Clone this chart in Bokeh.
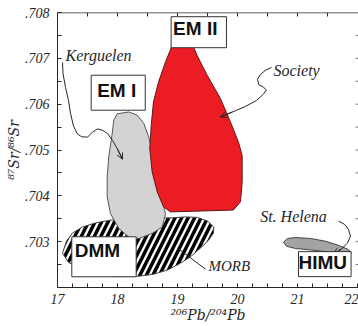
import numpy as np
from bokeh.plotting import figure
from bokeh.models import Label, FixedTicker, Arrow, OpenHead, Range1d
from bokeh.embed import file_html
from bokeh.resources import INLINE

# ---- axes / ticks ----
x_ticks = [17, 18, 19, 20, 21, 22]
x_tick_labels = ["17", "18", "19", "20", "21", "22"]
y_ticks = [0.703, 0.704, 0.705, 0.706, 0.707, 0.708]
y_tick_labels = [".703", ".704", ".705", ".706", ".707", ".708"]
x_minor = [17.25, 17.5, 17.75, 18.25, 18.5, 18.75, 19.25, 19.5, 19.75, 20.25, 20.5, 20.75, 21.25, 21.5, 21.75]
y_minor = [0.7025, 0.7035, 0.7045, 0.7055, 0.7065, 0.7075]
top_ticks = [17.5, 18, 18.5, 19, 19.5, 20, 20.5, 21, 21.5]
right_ticks = [0.7025, 0.703, 0.7035, 0.704, 0.7045, 0.705, 0.7055, 0.706, 0.7065, 0.707, 0.7075]

# ---- fields (206Pb/204Pb , 87Sr/86Sr) ----
em2_x = [18.917, 18.80, 18.683, 18.60, 18.562, 18.538, 18.578, 18.662, 18.767, 18.883,
         19.933, 20.05, 20.078, 20.078, 20.017, 19.883, 19.717, 19.495, 19.328, 19.25]
em2_y = [0.70730, 0.70692, 0.70648, 0.70605, 0.70554, 0.70504, 0.70452, 0.70409, 0.70376, 0.70365,
         0.70369, 0.70387, 0.70430, 0.70488, 0.70517, 0.70561, 0.70612, 0.70663, 0.70706, 0.70730]

em1_x = [17.995, 18.188, 18.328, 18.438, 18.522, 18.605, 18.662, 18.745, 18.80, 18.745,
         18.578, 18.355, 18.188, 18.022, 17.883, 17.828, 17.828, 17.855, 17.912, 17.938]
em1_y = [0.70579, 0.70583, 0.70576, 0.70558, 0.70528, 0.70485, 0.70434, 0.70390, 0.70361, 0.70332,
         0.70318, 0.70307, 0.70310, 0.70329, 0.70361, 0.70398, 0.70441, 0.70485, 0.70536, 0.70565]

morb_x = [17.083, 17.15, 17.25, 17.417, 17.633, 17.883, 18.217, 18.55, 18.883, 19.133, 19.333,
          19.50, 19.605, 19.60, 19.517, 19.383, 19.217, 19.05, 18.833, 18.60, 18.383, 18.133,
          17.883, 17.633, 17.383, 17.183]
morb_y = [0.70275, 0.70301, 0.70319, 0.70332, 0.70341, 0.70347, 0.70350, 0.70351, 0.70352, 0.70354, 0.70353,
          0.70345, 0.70332, 0.70319, 0.70303, 0.70286, 0.70267, 0.70253, 0.70238, 0.70229, 0.70225, 0.70224,
          0.70225, 0.70229, 0.70240, 0.70255]

sth_x = [20.767, 20.833, 20.967, 21.217, 21.467, 21.683, 21.85, 21.90, 21.80, 21.55, 21.217, 20.967, 20.817]
sth_y = [0.70299, 0.70307, 0.70309, 0.70307, 0.70301, 0.70292, 0.70283, 0.70276, 0.70274, 0.70277, 0.70282, 0.70285, 0.70290]

# ---- leader lines ----
kerg_x = [17.083, 17.092, 17.133, 17.183, 17.217, 17.267, 17.333, 17.40, 17.50, 17.583, 17.667, 17.75,
          17.833, 17.917, 18.00, 18.083]
kerg_y = [0.70691, 0.70667, 0.70637, 0.70608, 0.70580, 0.70552, 0.70535, 0.70529, 0.70528, 0.70539, 0.70546,
          0.70543, 0.70536, 0.70521, 0.70502, 0.70480]
soc_x = [20.567, 20.467, 20.383, 20.333, 20.358, 20.433, 20.483, 20.433, 20.317, 20.117, 19.917, 19.717]
soc_y = [0.70680, 0.70674, 0.70665, 0.70654, 0.70642, 0.70637, 0.70631, 0.70622, 0.70608, 0.70594, 0.70583, 0.70572]
sthl_x = [21.683, 21.783, 21.85, 21.883, 21.833, 21.733, 21.60]
sthl_y = [0.70345, 0.70338, 0.70327, 0.70312, 0.70297, 0.70284, 0.70273]
morbl_x = [19.0, 19.467]
morbl_y = [0.70286, 0.70240]

INK = "#262626"
SERIF = "Liberation Serif"
SANS = "Liberation Sans"

p = figure(width=358, height=326, x_range=Range1d(17, 22.017), y_range=Range1d(0.702, 0.708),
           output_backend="svg", toolbar_location=None,
           min_border_left=57, min_border_right=0, min_border_top=12, min_border_bottom=39)
p.outline_line_color = None
p.xgrid.visible = False
p.ygrid.visible = False
p.background_fill_color = "white"

# fields
p.patch(morb_x, morb_y, fill_color="white", line_color="#444444", line_width=1,
        hatch_pattern="/", hatch_color="black", hatch_weight=3.5, hatch_scale=13)
p.patch(em1_x, em1_y, fill_color="#d3d3d3", line_color="#555555", line_width=1)
p.patch(em2_x, em2_y, fill_color="#ec1c24", line_color="#5a1a1a", line_width=1)
p.patch(sth_x, sth_y, fill_color="#a3a3a3", line_color="#444444", line_width=1)

# leaders
for lx, ly, arrow in [(kerg_x, kerg_y, True), (soc_x, soc_y, True), (sthl_x, sthl_y, True), (morbl_x, morbl_y, False)]:
    p.line(lx, ly, line_color=INK, line_width=1)
    if arrow:
        p.add_layout(Arrow(end=OpenHead(size=6, line_color=INK, line_width=1), line_color=INK, line_width=1,
                           x_start=lx[-2], y_start=ly[-2], x_end=lx[-1], y_end=ly[-1]))

# top frame line with inward ticks, right-side inward ticks
p.hspan(y=[0.708], line_color=INK, line_width=1.5)
p.ray(x=top_ticks, y=[0.708] * len(top_ticks), length=4, length_units="screen",
      angle=-90, angle_units="deg", line_color=INK, line_width=1)
p.ray(x=[22.05] * len(right_ticks), y=right_ticks, length=5, length_units="screen",
      angle=180, angle_units="deg", line_color="#777777", line_width=1)

# axes
p.xaxis.ticker = FixedTicker(ticks=x_ticks, minor_ticks=x_minor)
p.xaxis.major_label_overrides = dict(zip(x_ticks, x_tick_labels))
p.yaxis.ticker = FixedTicker(ticks=y_ticks, minor_ticks=y_minor)
p.yaxis.major_label_overrides = dict(zip(y_ticks, y_tick_labels))
for ax in (p.xaxis[0], p.yaxis[0]):
    ax.major_tick_in = 4
    ax.major_tick_out = 0
    ax.minor_tick_in = 4
    ax.minor_tick_out = 0
    ax.axis_line_color = INK
    ax.major_tick_line_color = INK
    ax.minor_tick_line_color = INK
    ax.major_label_text_font = SERIF
    ax.major_label_text_font_style = "italic"
    ax.major_label_text_font_size = "14px"
    ax.major_label_text_color = INK
    ax.axis_label_text_font = "DejaVu Serif"
    ax.axis_label_text_font_style = "italic"
    ax.axis_label_text_font_size = "14px"
    ax.axis_label_text_color = INK
    ax.axis_label_standoff = 0
p.xaxis.major_label_standoff = 6
p.yaxis.major_label_standoff = 8
p.xaxis.axis_label = "\u00b2\u2070\u2076Pb/\u00b2\u2070\u2074Pb"
p.yaxis.axis_label = "\u2078\u2077Sr/\u2078\u2076Sr"

# boxed end-member labels
for txt, bx, by, pad in [("EM II", 19.355, 0.70757, (2, 9, 1, 9)),
                         ("EM I", 18.012, 0.70625, (6, 9, 5, 9)),
                         ("DMM", 17.775, 0.70267, (3, 16, 3, 16)),
                         ("HIMU", 21.455, 0.70251, (0, 4, 0, 4))]:
    p.add_layout(Label(x=bx, y=by, text=txt, text_align="center", text_baseline="middle",
                       text_font=SANS, text_font_style="bold", text_font_size="19px", text_color="#111111",
                       background_fill_color="white", border_line_color="#333333", border_line_width=1,
                       padding=pad))

# italic annotations
for txt, tx, ty, align, size in [("Kerguelen", 17.133, 0.70706, "left", "16px"),
                                 ("Society", 20.6, 0.70674, "left", "16px"),
                                 ("St. Helena", 20.933, 0.70356, "center", "16px"),
                                 ("MORB", 19.517, 0.70247, "left", "15px")]:
    p.add_layout(Label(x=tx, y=ty, text=txt, text_align=align, text_baseline="middle",
                       text_font=SERIF, text_font_style="italic", text_font_size=size, text_color=INK))

open("out.html", "w").write(file_html(p, INLINE))
